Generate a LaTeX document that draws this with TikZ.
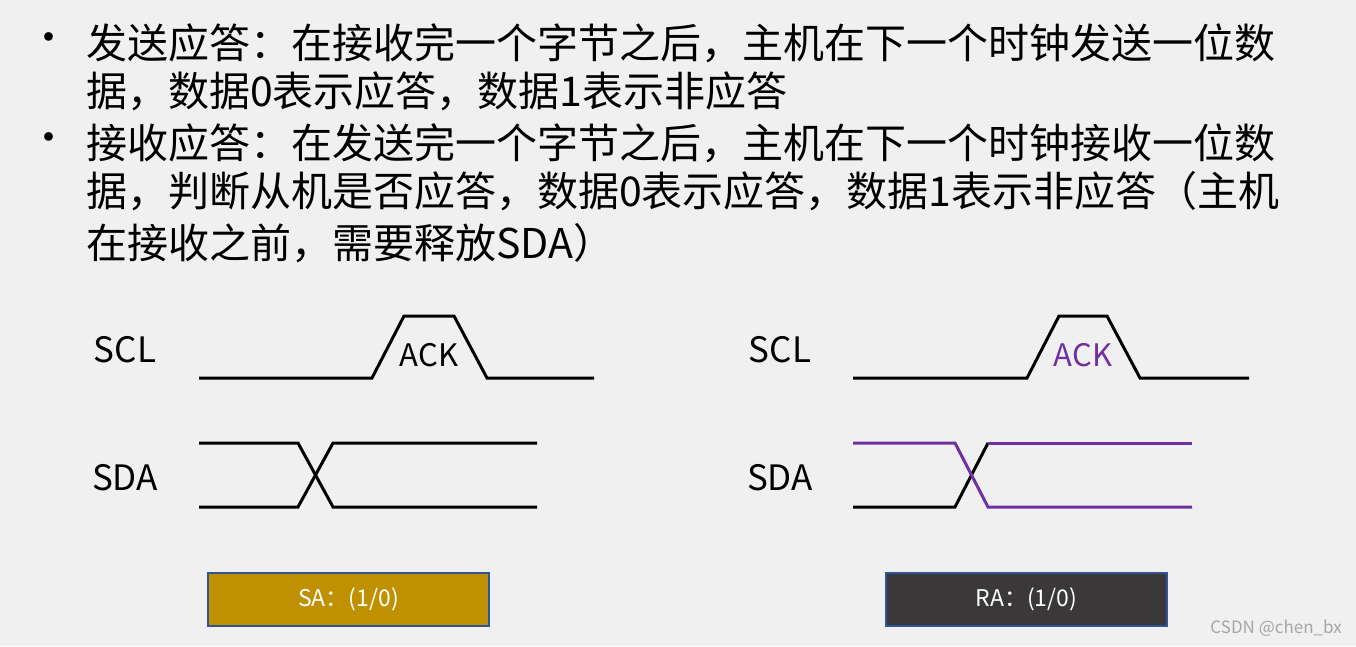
\documentclass[tikz,border=0pt]{standalone}
\usepackage{fontspec}
\setmainfont{Noto Sans CJK SC}
\usetikzlibrary{calc}
\definecolor{bg}{HTML}{F0F0F0}
\definecolor{pur}{HTML}{7030A0}
\definecolor{gold}{HTML}{BF9000}
\definecolor{dk}{HTML}{3A3838}
\definecolor{bd}{HTML}{2F5597}
\tikzset{txt/.style={anchor=west,inner sep=0pt,font=\fontsize{41}{48}\selectfont},
 lab/.style={inner sep=0pt,font=\fontsize{35}{40}\selectfont},
 wave/.style={line width=3pt},
 pwave/.style={line width=3pt,draw=pur},
 sbox/.style={draw=bd,line width=1.5pt,minimum width=281pt,minimum height=53pt,text=white,font=\fontsize{23}{26}\selectfont,inner sep=0pt}}
\begin{document}
\begin{tikzpicture}[x=1pt,y=-1pt]
\fill[bg] (0,0) rectangle (1356,646);
\useasboundingbox (0,0) rectangle (1356,646);
\node[txt] (b1) at (28,43) {•};
\node[txt] (b2) at (28,143) {•};
\node[txt] (l1) at (86,43) {发送应答：在接收完一个字节之后，主机在下一个时钟发送一位数};
\node[txt] (l2) at (86,91) {据，数据0表示应答，数据1表示非应答};
\node[txt] (l3) at (86,143) {接收应答：在发送完一个字节之后，主机在下一个时钟接收一位数};
\node[txt] (l4) at (86,191) {据，判断从机是否应答，数据0表示应答，数据1表示非应答（主机};
\node[txt] (l5) at (86,243) {在接收之前，需要释放SDA）};
\node[lab] (scl1) at (125,350) {SCL};
\node[lab] (sda1) at (125,478) {SDA};
\node[lab] (scl2) at (780,350) {SCL};
\node[lab] (sda2) at (780,478) {SDA};
\draw[wave] (199,378) -- (372,378) -- (404,316) -- (454,316) -- (487,378) -- (594,378);
\node[inner sep=0pt,font=\fontsize{31}{34}\selectfont] (ack1) at (429,355) {ACK};
\draw[wave] (199,443) -- (298,443) -- (333,507) -- (537,507);
\draw[wave] (199,507) -- (298,507) -- (333,443) -- (537,443);
\draw[wave] (853,378) -- (1027,378) -- (1059,316) -- (1107,316) -- (1140,378) -- (1249,378);
\node[inner sep=0pt,font=\fontsize{31}{34}\selectfont,text=pur] (ack2) at (1083,355) {ACK};
\draw[wave] (853,507) -- (955,507) -- (988,443);
\draw[pwave] (853,443) -- (955,443) -- (988,507) -- (1192,507);
\draw[pwave] (988,443) -- (1192,443);
\node[sbox,fill=gold] (sa) at (348.5,599.5) {SA：(1/0)};
\node[sbox,fill=dk] (ra) at (1026.5,599.5) {RA：(1/0)};
\node[anchor=east,inner sep=0pt,text=gray!70,font=\fontsize{17}{20}\selectfont] (wm) at (1342,628) {CSDN @chen\_bx};
\end{tikzpicture}
\end{document}
